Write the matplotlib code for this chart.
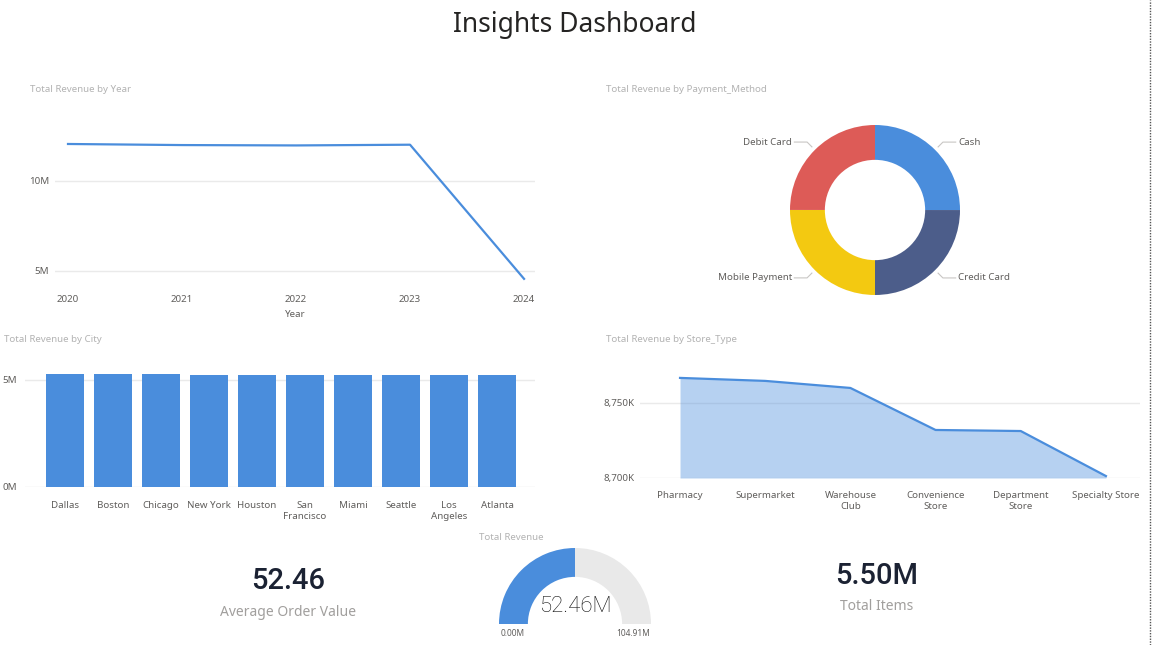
import matplotlib
matplotlib.use("Agg")
import matplotlib.pyplot as plt
from matplotlib.lines import Line2D
import numpy as np

# ---- data ----
years = [2020, 2021, 2022, 2023, 2024]
revenue_year = [12.02, 11.96, 11.94, 11.98, 4.56]  # M

payment_methods = ["Cash", "Credit Card", "Mobile Payment", "Debit Card"]
revenue_payment = [13.12, 13.11, 13.12, 13.11]  # M
payment_colors = ["#4A8DDC", "#4C5D8A", "#F3C911", "#DD5B57"]

cities = ["Dallas", "Boston", "Chicago", "New York", "Houston", "San\nFrancisco",
          "Miami", "Seattle", "Los\nAngeles", "Atlanta"]
revenue_city = [5.28, 5.265, 5.26, 5.255, 5.25, 5.245, 5.24, 5.24, 5.235, 5.21]  # M

store_types = ["Pharmacy", "Supermarket", "Warehouse\nClub", "Convenience\nStore",
               "Department\nStore", "Specialty Store"]
revenue_store = [8766.7, 8764.7, 8760.0, 8732.0, 8731.3, 8701.3]  # K

total_revenue = 52.46
gauge_max = 104.91
avg_order_value = 52.46
total_items = 5.50

W, H = 1152, 645
BLUE = "#4A8DDC"
GRID = "#EAEAEA"
TICK = "#605E5C"
TITLE_GREY = "#B3B3B3"
DARK = "#252423"

plt.rcParams["font.family"] = ["Noto Sans", "DejaVu Sans"]

fig = plt.figure(figsize=(W / 100, H / 100), dpi=100)
fig.patch.set_facecolor("white")


def px_axes(left, top, right, bottom):
    return fig.add_axes([left / W, 1 - bottom / H, (right - left) / W, (bottom - top) / H])


def ftext(x, y, s, **kw):
    fig.text(x / W, 1 - y / H, s, **kw)


def style_axes(ax):
    for sp in ax.spines.values():
        sp.set_visible(False)
    ax.tick_params(length=0, labelsize=7, colors=TICK)
    ax.grid(axis="y", color=GRID, linewidth=1)
    ax.set_axisbelow(True)


ftext(575, 25, "Insights Dashboard", ha="center", va="center", fontsize=19, color=DARK)

# ---- revenue by year ----
ax1 = px_axes(55, 110, 535, 283)
ax1.plot(years, revenue_year, color=BLUE, linewidth=1.6)
ax1.set_xlim(2019.886, 2024.096)
ax1.set_ylim(4.33, 13.9)
ax1.set_yticks([5, 10])
ax1.set_yticklabels(["5M", "10M"])
ax1.set_xticks(years)
style_axes(ax1)
ax1.tick_params(axis="x", pad=9)
ax1.tick_params(axis="y", pad=4)
ax1.set_xlabel("Year", fontsize=7, color=TICK, labelpad=4)
ftext(30, 90, "Total Revenue by Year", ha="left", va="center", fontsize=7, color=TITLE_GREY)

# ---- revenue by payment method ----
ax2 = px_axes(790, 125, 960, 295)
wedges, _ = ax2.pie(revenue_payment, colors=payment_colors, startangle=90,
                    counterclock=False, radius=1.0,
                    wedgeprops=dict(width=0.41, edgecolor="none"))
ax2.set_aspect("equal")
ax2.set_xlim(-1.0, 1.0)
ax2.set_ylim(-1.0, 1.0)
for w, name in zip(wedges, payment_methods):
    ang = np.deg2rad((w.theta1 + w.theta2) / 2)
    c, s = np.cos(ang), np.sin(ang)
    p0 = (1.05 * c, 1.05 * s)
    p1 = (1.13 * c, 1.13 * s)
    sign = 1 if c > 0 else -1
    p2 = (p1[0] + sign * 0.15, p1[1])
    ax2.add_line(Line2D([p0[0], p1[0], p2[0]], [p0[1], p1[1], p2[1]],
                        color="#C8C6C4", linewidth=0.8, clip_on=False))
    ax2.text(p2[0] + sign * 0.03, p2[1], name, ha="left" if sign > 0 else "right",
             va="center", fontsize=7, color=TICK, clip_on=False)
ftext(606, 90, "Total Revenue by Payment_Method", ha="left", va="center",
      fontsize=7, color=TITLE_GREY)

# ---- revenue by city ----
ax3 = px_axes(25, 365, 535, 487)
xc = np.arange(len(cities))
ax3.bar(xc, revenue_city, width=0.79, color=BLUE)
ax3.set_xlim(-0.83, len(cities) - 1 + 0.79)
ax3.set_ylim(0, 5.7)
ax3.set_yticks([0, 5])
ax3.set_yticklabels(["0M", "5M"])
ax3.set_xticks(xc)
ax3.set_xticklabels(cities, linespacing=1.3)
style_axes(ax3)
ax3.tick_params(axis="x", pad=10)
ax3.tick_params(axis="y", pad=6)
ftext(4, 339, "Total Revenue by City", ha="left", va="center", fontsize=7, color=TITLE_GREY)

# ---- revenue by store type ----
ax4 = px_axes(640, 365, 1140, 478)
xs = np.arange(len(store_types))
ax4.fill_between(xs, revenue_store, 8700, color=BLUE, alpha=0.4, linewidth=0)
ax4.plot(xs, revenue_store, color=BLUE, linewidth=1.6)
ax4.set_xlim(-0.47, len(store_types) - 1 + 0.40)
ax4.set_ylim(8700, 8775.3)
ax4.set_yticks([8700, 8750])
ax4.set_yticklabels(["8,700K", "8,750K"])
ax4.set_xticks(xs)
ax4.set_xticklabels(store_types, linespacing=1.3)
style_axes(ax4)
ax4.tick_params(axis="x", pad=9)
ax4.tick_params(axis="y", pad=4)
ftext(606, 339, "Total Revenue by Store_Type", ha="left", va="center",
      fontsize=7, color=TITLE_GREY)

# ---- KPI: average order value ----
ftext(288, 581, f"{avg_order_value:.2f}", ha="center", va="center", fontsize=21,
      color="#1B2233", family=["Roboto", "DejaVu Sans"], fontweight="medium")
ftext(288, 613, "Average Order Value", ha="center", va="center", fontsize=10, color="#A19F9D")

# ---- gauge: total revenue ----
ax5 = px_axes(499, 548, 651, 624)
ax5.pie([total_revenue, gauge_max - total_revenue, gauge_max],
        colors=[BLUE, "#E9E9E9", "none"], startangle=180, counterclock=False,
        radius=1.0, wedgeprops=dict(width=0.38, edgecolor="none"))
ax5.set_aspect("equal")
ax5.set_xlim(-1.0, 1.0)
ax5.set_ylim(0, 1.0)
ax5.axis("off")
ftext(479, 538, "Total Revenue", ha="left", va="center", fontsize=7, color=TITLE_GREY)
ftext(575, 607, f"{total_revenue:.2f}M", ha="center", va="center", fontsize=16,
      color="#111111", family=["Roboto", "DejaVu Sans"], fontweight="light")
ftext(513, 634, "0.00M", ha="center", va="center", fontsize=6, color=TICK)
ftext(633, 634, f"{gauge_max:.2f}M", ha="center", va="center", fontsize=6, color=TICK)

# ---- KPI: total items ----
ftext(877, 576, f"{total_items:.2f}M", ha="center", va="center", fontsize=21,
      color="#1B2233", family=["Roboto", "DejaVu Sans"], fontweight="medium")
ftext(877, 607, "Total Items", ha="center", va="center", fontsize=10, color="#A19F9D")

# dotted page border on the right
fig.add_artist(Line2D([1150 / W, 1150 / W], [0, 1], transform=fig.transFigure,
                      color="#555555", linewidth=1, linestyle=(0, (1, 1))))

fig.savefig("out.png", dpi=100, facecolor="white")
